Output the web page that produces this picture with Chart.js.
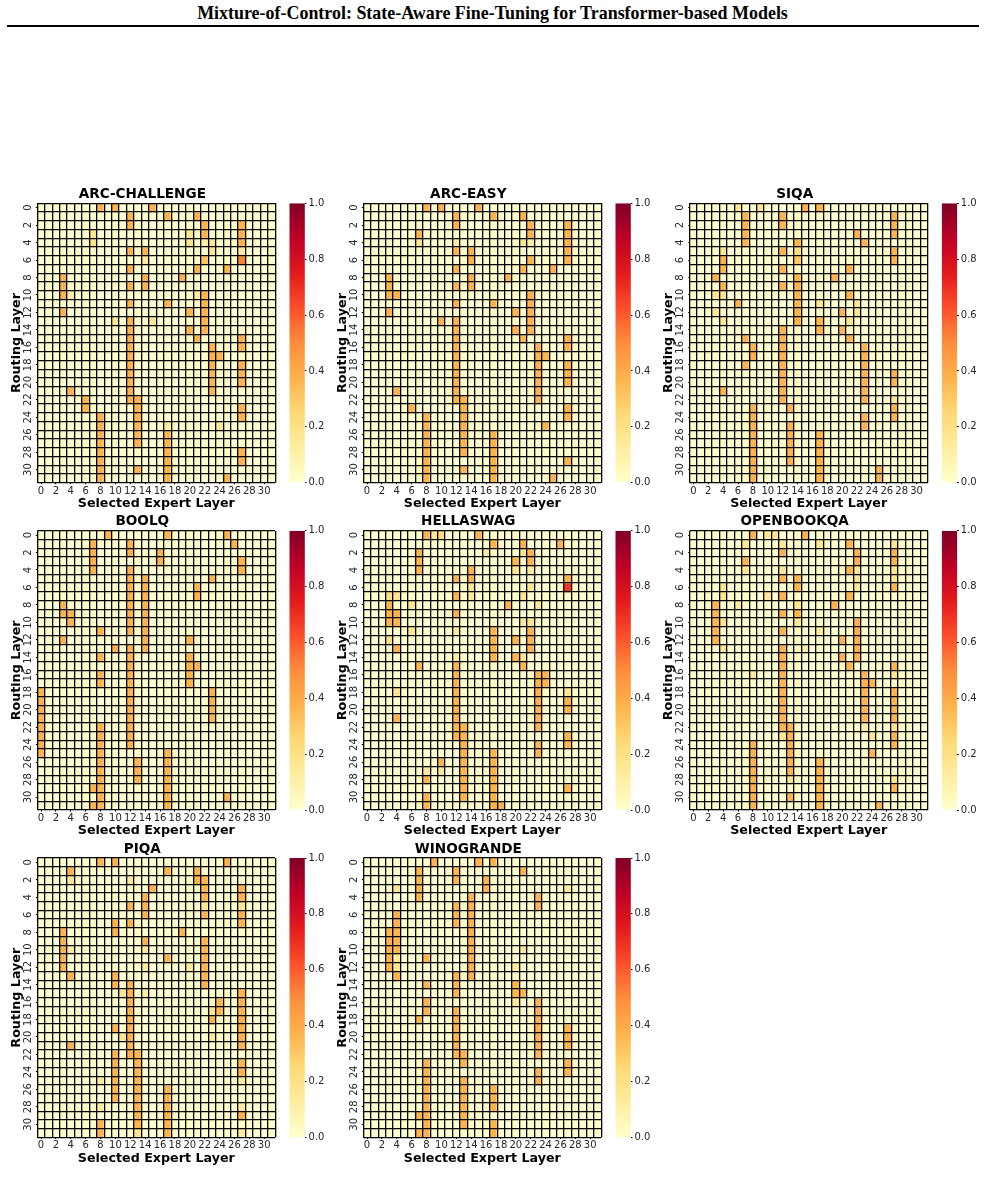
<!DOCTYPE html>
<html>
<head>
<meta charset="utf-8">
<title>Mixture-of-Control</title>
<script src="https://cdn.jsdelivr.net/npm/chart.js@4"></script>
<style>
  html, body { margin: 0; padding: 0; background: #fff; }
  body { position: relative; width: 985px; height: 1184px; overflow: hidden; }
  #head { position: absolute; left: 0; top: 2px; width: 985px; text-align: center;
    font: bold 17.95px/22px "Liberation Serif", serif; color: #000; }
  #rule { position: absolute; left: 7px; top: 25px; width: 972px; height: 2px; background: #000; }
  canvas { position: absolute; }
</style>
</head>
<body>
<div id="head">Mixture-of-Control: State-Aware Fine-Tuning for Transformer-based Models</div>
<div id="rule"></div>
<script>
const layers = Array.from({ length: 32 }, (_, i) => i);
const cellEdges = Array.from({ length: 33 }, (_, i) => i);
const colorbarTicks = [0, 0.2, 0.4, 0.6, 0.8, 1];
// YlOrRd, low to high
const ylOrRd = ['#ffffcc', '#ffeda0', '#fed976', '#feb24c', '#fd8d3c', '#fc4e2a', '#e31a1c', '#bd0026', '#800026'];

// routed expert layers, one list per routing layer (weight .37)
const arcChallengeMain = [[8,10,15],[12,17,21],[12,22,27],[22,27],[27],[12,14],[],[12,21,25],[3,14,19],[3,12,14],[3,22],[12,17,22],[3,20,22],[12,22],[12,20,22],[12,21,27],[12,23,27],[12,23,24],[12,23,27],[12,23,27],[12,23,27],[4,12,23],[6,12,13],[6,13,27],[8,13,27],[8,13],[8,13,17],[8,13,17],[8,17,27],[8,17,27],[8,13,17],[8,17,25]];
const arcEasyMain = [[8,10,15],[12,17,21],[12,22,27],[7,22,27],[27],[12,14,27],[14,22,27],[12,21,25],[3,14,19],[3,12,14],[3,4,22],[12,17,22],[3,20,22],[10,12,22],[12,20,22],[12,21,27],[12,23,27],[12,23,24],[12,23,27],[12,23,27],[12,23,27],[4,12,23],[12,13,23],[6,13,27],[8,13,27],[8,13,24],[8,13,17],[8,13,17],[8,13,17],[8,17,27],[8,13,17],[8,17,25]];
const siqaMain = [[15,17],[7,12,27],[7,12,27],[7,22,27],[7,14,23],[12,27],[4,14,27],[4,12,21],[3,14,19],[4,12,14],[14,21],[6,14],[14,20],[14,17],[12,17,20],[7,12,21],[8,12,23],[8,12,23],[7,12,23],[12,23,27],[12,23,27],[4,12,23],[12,23],[8,13,27],[8,23,27],[8,13,23],[8,13,17],[8,13,17],[8,13,17],[8,13,17],[8,17,25],[8,17,25]];
const boolqMain = [[9,17,25],[7,12,26],[7,12,16],[7,16,27],[7,12,27],[12,14,23],[12,14,21],[12,14,21],[3,12,14],[3,4,12,14],[4,12,14],[8,12,14],[3,14,20],[10,12,14],[8,12,20],[12,20,21],[8,12,20],[8,12,20],[0,12,23],[0,12,23],[0,12,23],[0,12,23],[0,8,12],[0,8,12],[0,8,12],[0,8,17],[8,13,17],[8,13,17],[8,13,17],[7,8,17],[8,17,25],[7,8,17]];
const hellaswagMain = [[8,15],[17,21,26],[7,22],[7,20,22],[7,14],[12,14,27],[],[12],[3,19],[3,4,12],[3,4],[17,22],[17,20,22],[4,17,22],[17,20],[7,12,21],[12,23,24],[12,23,24],[12,23],[12,23,27],[12,23,27],[4,12,23],[12,13,23],[12,13,27],[13,23,27],[13,17,23],[10,13,17],[13,17],[8,13,17],[13,17,27],[8,13,17],[8,17,18]];
const openbookqaMain = [[8,15],[21],[12,22,27],[7,22,27],[21],[12,14],[14,27],[12,21],[3,19],[3,12,14],[3,22],[3,12,22],[3,20,22],[12,22],[12,20,22],[12,21,27],[12,23],[12,23,24],[12,23,27],[12,23,27],[12,23,27],[12,23,27],[12,13],[13,27],[8,13,27],[8,13,24],[8,13,17],[8,13,17],[8,17],[8,17,27],[8,13,17],[8,17,25]];
const piqaMain = [[8,10,25],[4,17,21],[21,22],[15,22,27],[14,22,27],[12,14],[14,22,27],[10,12,27],[3,10,19],[3,14,22],[3,22],[3,17,22],[3,22],[4,10,22],[10,12,22],[12,27],[12,24,27],[12,24,27],[12,23,27],[10,12,27],[12,27],[4,12,27],[10,12,13],[10,13,27],[10,13,27],[10,13],[10,13,17],[10,13,17],[13,17],[13,17,27],[8,13,17],[8,17]];
const winograndeMain = [[9,15,17],[7,12,21],[7,12,16],[7,16],[7,14,23],[12,14,23],[4,12,14],[4,12,14],[3,4,14],[3,4,14],[3,4,14],[3,8,14],[3,14],[4,12,14],[8,12,20],[12,20,21],[8,23],[8,12,23],[7,12,23],[12,23,27],[12,23,27],[12,23,27],[12,13,23],[8,13,27],[8,23,27],[8,13,23],[8,13,17],[8,13,17],[8,13,17],[7,8,13],[8,13,17],[7,8,17]];

// weaker cells as [row, column, weight]
const arcChallengeSoft = [[3,7,.17],[3,20,.17],[4,7,.17],[4,20,.17],[4,22,.12],[4,23,.17],[5,23,.17],[5,27,.14],[6,14,.14],[6,22,.32],[6,27,.52],[10,4,.12],[10,21,.12],[13,10,.17],[13,15,.17],[25,17,.12],[25,24,.17]];
const arcEasySoft = [[4,7,.17],[4,12,.12],[4,21,.17],[4,22,.12]];
const siqaSoft = [[0,6,.17],[0,9,.17],[5,4,.17],[5,14,.2],[6,14,.3],[10,3,.17],[10,4,.17],[11,17,.17],[11,22,.17],[12,3,.17],[12,22,.17],[13,4,.17],[13,21,.17],[22,27,.17]];
const boolqSoft = [];
const hellaswagSoft = [[0,9,.17],[0,10,.22],[2,16,.17],[2,21,.17],[4,20,.17],[4,22,.14],[6,14,.17],[6,22,.17],[6,27,.68],[7,3,.2],[7,4,.17],[7,14,.14],[7,21,.17],[8,6,.17],[8,23,.17],[10,21,.14],[10,22,.17],[11,6,.17],[11,12,.14],[12,3,.2],[14,12,.14],[14,21,.17],[18,4,.17],[18,27,.17],[27,8,.17],[27,10,.17]];
const openbookqaSoft = [[0,10,.17],[0,11,.17],[1,7,.17],[1,12,.17],[1,17,.17],[1,27,.17],[4,7,.17],[4,12,.17],[4,22,.17],[4,27,.17],[5,22,.17],[5,27,.17],[6,4,.17],[6,22,.17],[7,4,.17],[7,10,.17],[8,6,.14],[8,14,.17],[10,4,.17],[10,14,.14],[11,17,.14],[13,4,.17],[13,15,.14],[16,8,.14],[16,27,.17],[22,23,.14],[22,27,.17],[23,12,.17],[23,24,.17],[28,13,.17],[28,27,.17]];
const piqaSoft = [[2,4,.17],[2,12,.14],[5,22,.17],[5,27,.17],[10,4,.12],[10,14,.14],[12,14,.14],[12,20,.14],[15,11,.17],[15,14,.12],[17,23,.17],[20,11,.17],[20,23,.14],[25,8,.14],[25,27,.14],[28,8,.14],[28,27,.14],[31,13,.17],[31,27,.14]];
const winograndeSoft = [[3,4,.17],[3,27,.12],[10,21,.14],[11,4,.14],[12,4,.17],[12,20,.14],[16,20,.14]];

const panels = [
  { name: 'ARC-CHALLENGE', main: arcChallengeMain, soft: arcChallengeSoft, left: 37.3, top: 203.3 },
  { name: 'ARC-EASY', main: arcEasyMain, soft: arcEasySoft, left: 363.3, top: 203.3 },
  { name: 'SIQA', main: siqaMain, soft: siqaSoft, left: 689.7, top: 203.3 },
  { name: 'BOOLQ', main: boolqMain, soft: boolqSoft, left: 37.3, top: 530.7 },
  { name: 'HELLASWAG', main: hellaswagMain, soft: hellaswagSoft, left: 363.3, top: 530.7 },
  { name: 'OPENBOOKQA', main: openbookqaMain, soft: openbookqaSoft, left: 689.7, top: 530.7 },
  { name: 'PIQA', main: piqaMain, soft: piqaSoft, left: 37.3, top: 858 },
  { name: 'WINOGRANDE', main: winograndeMain, soft: winograndeSoft, left: 363.3, top: 858 },
];

const PLOT_W = 238, PLOT_H = 279.4;
const FONT = '"DejaVu Sans", sans-serif';
Chart.defaults.font.family = FONT;
Chart.defaults.color = '#262626';
Chart.defaults.animation = false;
Chart.defaults.responsive = false;

// linear blend between the YlOrRd stops
function cellColor(v) {
  const t = Math.min(v, 1) * (ylOrRd.length - 1), i = Math.min(Math.floor(t), ylOrRd.length - 2), f = t - i;
  const a = parseInt(ylOrRd[i].slice(1), 16), b = parseInt(ylOrRd[i + 1].slice(1), 16);
  const mix = s => Math.round(((a >> s) & 255) * (1 - f) + ((b >> s) & 255) * f);
  return `rgb(${mix(16)},${mix(8)},${mix(0)})`;
}

function addCanvas(left, top, w, h) {
  const c = document.createElement('canvas');
  c.width = w; c.height = h;
  c.style.cssText = `left:${left}px;top:${top}px;width:${w}px;height:${h}px`;
  document.body.appendChild(c);
  return c;
}

function buildGrid(p) {
  const grid = layers.map(() => layers.map(() => 0));
  p.main.forEach((cols, r) => cols.forEach(c => { grid[r][c] = 0.37; }));
  p.soft.forEach(([r, c, v]) => { grid[r][c] = v; });
  return grid;
}

// hidden 0..32 axis whose gridlines draw the black lines over the cells
function edgeAxis(axis, position, size) {
  return {
    axis, position, type: 'linear', min: 0, max: 32, offset: false,
    afterFit: s => { if (axis === 'x') s.height = size; else s.width = size; },
    afterBuildTicks: s => { s.ticks = cellEdges.map(value => ({ value })); },
    grid: { color: '#000', lineWidth: 1.3, drawTicks: false, offset: false, z: 1 },
    border: { display: false },
    ticks: { display: false, autoSkip: false },
  };
}

function drawHeatmap(p) {
  const grid = buildGrid(p);
  // canvas runs under the colorbar so the title centres a little right of the cells
  const L = Math.floor(p.left) - 34, T = Math.floor(p.top) - 24, W = 316, H = 345;
  const yBox = 28, xBox = 28, titleBox = 17;
  const padLeft = p.left - L - yBox, padTop = p.top - T - titleBox;
  new Chart(addCanvas(L, T, W, H), {
    type: 'bar',
    data: {
      labels: layers,
      // one dataset per routing layer, each cell a floating bar one row tall
      datasets: layers.map(r => ({
        data: layers.map(() => [r, r + 1]),
        backgroundColor: grid[r].map(cellColor),
        borderWidth: 0,
        inflateAmount: 0.5,
        grouped: false,
        barPercentage: 1,
        categoryPercentage: 1,
      })),
    },
    options: {
      layout: {
        autoPadding: false,
        padding: { left: padLeft, top: padTop, right: W - padLeft - yBox - PLOT_W, bottom: H - padTop - titleBox - PLOT_H - xBox },
      },
      plugins: {
        legend: { display: false },
        tooltip: { enabled: false },
        title: {
          display: true, text: p.name, color: '#000',
          font: { family: FONT, size: 13.6, weight: 'bold', lineHeight: 1.2 },
          padding: { top: 0, bottom: titleBox - 13.6 * 1.2 },
        },
      },
      scales: {
        x: {
          type: 'category',
          afterFit: s => { s.height = xBox; },
          afterBuildTicks: s => { s.ticks = s.ticks.filter(t => t.value % 2 === 0); },
          grid: { display: true, drawOnChartArea: false, offset: false, tickLength: 1.5, color: '#000' },
          border: { display: false },
          ticks: { autoSkip: false, maxRotation: 0, minRotation: 0, padding: 1, font: { size: 10 }, callback: (v) => v },
          title: { display: true, text: 'Selected Expert Layer', color: '#000', padding: 0, font: { size: 12.7, weight: 'bold', lineHeight: 1.1 } },
        },
        y: {
          type: 'linear', reverse: true, min: 0, max: 32,
          afterFit: s => { s.width = yBox; },
          // labels sit at the middle of each row
          afterBuildTicks: s => { s.ticks = layers.filter(i => i % 2 === 0).map(i => ({ value: i + 0.5 })); },
          grid: { display: true, drawOnChartArea: false, tickLength: 1.5, color: '#000' },
          border: { display: false },
          ticks: { autoSkip: false, minRotation: 90, maxRotation: 90, crossAlign: 'center', padding: 1, font: { size: 10 }, callback: v => String(v - 0.5) },
          title: { display: true, text: 'Routing Layer', color: '#000', padding: 0, font: { size: 12.7, weight: 'bold', lineHeight: 1.1 } },
        },
        xEdges: edgeAxis('x', 'top', 0),
        yEdges: edgeAxis('y', 'right', 0),
      },
    },
  });
}

function drawColorbar(p) {
  const barLeft = p.left + 252, barW = 15.6;
  const L = Math.floor(barLeft), T = Math.floor(p.top) - 10, W = 45, H = 300;
  const padTop = p.top - T;
  new Chart(addCanvas(L, T, W, H), {
    type: 'bar',
    data: {
      labels: ['scale'],
      datasets: [{
        data: [[0, 1]],
        barPercentage: 1, categoryPercentage: 1, inflateAmount: 0, borderWidth: 0,
        backgroundColor: ctx => {
          const a = ctx.chart.chartArea;
          if (!a) return ylOrRd[0];
          const g = ctx.chart.ctx.createLinearGradient(0, a.bottom, 0, a.top);
          ylOrRd.forEach((c, i) => g.addColorStop(i / (ylOrRd.length - 1), c));
          return g;
        },
      }],
    },
    options: {
      layout: {
        autoPadding: false,
        padding: { left: barLeft - L, top: padTop, right: 0, bottom: H - padTop - PLOT_H },
      },
      plugins: { legend: { display: false }, tooltip: { enabled: false } },
      scales: {
        x: { display: false },
        y: {
          position: 'right', min: 0, max: 1,
          afterFit: s => { s.width = W - (barLeft - L) - barW; },
          afterBuildTicks: s => { s.ticks = colorbarTicks.map(value => ({ value })); },
          grid: { display: true, drawOnChartArea: false, tickLength: 1.5, color: '#000' },
          border: { display: false },
          ticks: { padding: 2, font: { size: 10 }, callback: v => v.toFixed(1) },
        },
      },
    },
  });
}

panels.forEach(p => { drawHeatmap(p); drawColorbar(p); });
</script>
</body>
</html>
